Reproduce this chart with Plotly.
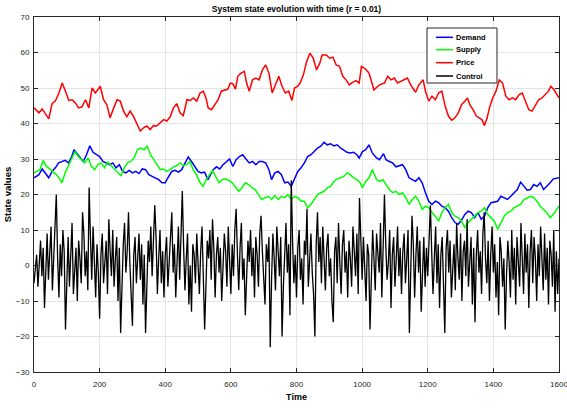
import plotly.graph_objects as go

FONT = "Liberation Sans, Arial, sans-serif"
AXIS = "#262626"
GRID = "#e3e3e3"

# ---- Demand (blue) ----
demand_t = [0, 15, 25, 35, 45, 55, 65, 75, 85, 95, 105, 115, 122, 130, 140, 150, 160, 170, 180, 190,
            200, 210, 220, 230, 240, 250, 260, 270, 280, 290, 300, 310, 320, 330, 340, 350, 360, 370, 380, 390,
            400, 410, 420, 430, 440, 450, 460, 470, 480, 490, 500, 510, 520, 530,
            546, 556, 566, 576, 586, 596, 606, 616, 626, 636, 646, 656, 666, 676, 686, 696, 706, 716,
            724, 734, 744, 754, 764, 774, 784, 794, 804, 814, 824, 834, 844, 854, 864, 874, 884, 894, 904, 914,
            924, 934, 944, 954, 964, 974, 984, 991, 1001, 1011, 1021, 1031, 1044,
            1053, 1065, 1073, 1083, 1093, 1103, 1113, 1123, 1133, 1143, 1153, 1163, 1173, 1183, 1193, 1203,
            1213, 1223, 1233, 1243, 1253, 1263, 1273, 1283, 1293, 1303, 1313, 1323, 1333, 1343, 1353, 1363,
            1373, 1383, 1393, 1403, 1413, 1423, 1433, 1443, 1453, 1463, 1473, 1483, 1493, 1503, 1513, 1523,
            1533, 1543, 1553, 1563, 1573, 1583, 1600]
demand_v = [24.7, 25.6, 27.2, 26.1, 24.7, 26.5, 27.5, 28.9, 29.3, 29.6, 28.9, 30.7, 32.6, 31.7, 30.7, 29.3,
            31.2, 33.7, 31.9, 31.2, 30.7, 29.3, 28.9, 28.4, 28.9, 27.5, 28.4, 26.5, 26.1, 26.8, 26.1, 26.5,
            25.9, 27.2, 27.0, 25.6, 25.1, 24.7, 24.2, 23.3, 23.3, 25.0, 26.5, 26.8, 26.3, 27.0, 28.9, 30.6,
            29.3, 27.9, 26.5, 26.1, 26.3, 24.2,
            27.0, 27.8, 27.2, 28.4, 29.3, 30.0, 27.9, 29.8, 30.7, 31.2, 30.0, 28.9, 29.3, 28.4, 29.3, 29.3,
            28.9, 27.0, 24.2, 26.1, 26.5, 25.6, 23.3, 23.5, 22.3, 24.2, 26.5, 27.5, 28.9, 30.7, 31.2, 32.1,
            33.1, 33.6, 34.7, 34.0, 34.3, 33.7, 34.0, 33.1, 32.4, 31.9, 31.7, 31.9, 31.2, 30.3, 32.1, 32.6,
            34.0, 31.7, 30.3,
            29.8, 31.5, 29.8, 29.3, 28.9, 27.8, 28.1, 28.4, 27.0, 24.7, 24.2, 23.7, 24.7, 23.3, 20.5, 18.1,
            17.2, 18.1, 17.7, 16.7, 16.3, 15.3, 13.5, 12.1, 11.6, 12.8, 14.4, 15.3, 14.9, 13.5, 14.9, 13.0,
            13.9, 16.3, 17.7, 17.9, 18.1, 19.5, 19.1, 18.6, 19.5, 20.5, 21.4, 23.5, 22.3, 21.2, 21.4, 22.8,
            22.3, 23.3, 21.4, 22.3, 23.3, 24.4, 24.7]

# ---- Supply (green) ----
supply_t = [0, 18, 28, 38, 48, 58, 68, 78, 85, 95, 105, 115, 125, 135, 145, 155, 165, 175, 185, 195,
            205, 215, 225, 235, 245, 255, 265, 275, 285, 295, 305, 315, 325, 335, 345, 355, 365, 375, 385, 395,
            405, 415, 425, 435, 445, 455, 465, 475, 485, 495, 505, 515, 525,
            544, 554, 564, 574, 584, 594, 604, 614, 624, 634, 644, 654, 664, 674, 684, 694, 704, 714, 724, 734,
            744, 754, 764, 774, 784, 794, 804, 814, 824, 834, 844, 854, 864, 874, 884, 894, 904, 914, 924, 934,
            944, 954, 964, 974, 984, 994, 1001, 1011, 1021, 1031, 1044,
            1053, 1063, 1073, 1083, 1093, 1103, 1113, 1123, 1133, 1143, 1153, 1163, 1173, 1183, 1193, 1203,
            1213, 1223, 1233, 1243, 1253, 1263, 1273, 1283, 1293, 1303, 1313, 1323, 1333, 1343, 1353, 1363,
            1373, 1383, 1393, 1403, 1413, 1423, 1433, 1443, 1453, 1463, 1473, 1483, 1493, 1503, 1513, 1523,
            1533, 1543, 1553, 1563, 1573, 1583, 1600]
supply_v = [26.1, 27.0, 29.6, 27.9, 27.2, 26.5, 25.6, 24.4, 23.3, 26.1, 28.1, 30.3, 32.1, 30.7, 29.8, 28.9,
            30.3, 27.9, 27.0, 28.4, 28.9, 27.5, 29.1, 28.1, 27.0, 26.1, 25.3, 27.5, 28.9, 29.3, 30.3, 32.6,
            33.1, 32.6, 33.6, 31.2, 29.8, 28.4, 27.0, 27.2, 26.5, 27.0, 27.8, 28.1, 28.9, 28.1, 28.4, 29.3,
            27.0, 25.6, 23.5, 22.3, 24.2,
            26.8, 25.1, 23.3, 24.2, 24.4, 24.0, 23.3, 22.1, 20.9, 21.9, 23.3, 22.8, 21.9, 21.4, 20.0, 18.6,
            19.1, 19.5, 18.6, 19.7, 18.6, 19.5, 19.1, 20.0, 18.6, 19.5, 19.1, 18.1, 18.1, 16.3, 17.2, 18.6,
            20.0, 20.5, 20.9, 21.9, 22.3, 23.7, 24.4, 24.7, 25.1, 26.1, 25.6, 24.7, 24.2, 23.3, 21.9, 23.7,
            24.7, 27.0, 24.2,
            23.7, 24.2, 22.8, 21.4, 20.5, 20.9, 20.0, 20.5, 19.1, 17.2, 18.6, 19.5, 18.1, 15.8, 16.7, 16.3,
            14.9, 13.9, 12.5, 14.9, 16.3, 17.2, 14.9, 13.9, 13.5, 12.5, 10.7, 12.1, 13.0, 13.9, 14.9, 15.3,
            16.3, 14.4, 13.5, 12.5, 10.2, 12.1, 13.9, 14.9, 15.3, 16.3, 16.7, 17.2, 18.6, 19.1, 19.5, 19.1,
            18.1, 16.7, 15.8, 14.9, 13.5, 14.4, 16.7]

# ---- Price (red) ----
price_t = [0, 15, 25, 35, 45, 55, 65, 76, 86, 96, 106, 116, 126, 136, 146, 157, 167, 177, 187, 202,
           212, 222, 232, 243, 253, 263, 273, 283, 293, 303, 314, 324, 334, 344, 354, 364, 374, 385, 395, 405,
           415, 425, 435, 445, 455, 466, 476, 486, 496,
           506, 516, 524, 531, 541, 551, 561, 571, 581, 591, 598, 606, 614, 621, 631, 641, 648, 656, 666, 676,
           686, 696, 706, 716, 726, 736, 746, 756, 766, 776, 786, 794, 804, 811, 821, 831, 841, 851, 861, 871,
           878, 891, 901, 911, 921, 931, 941, 951, 961, 971, 981, 991, 998, 1011, 1021, 1036, 1046,
           1053, 1068, 1078, 1088, 1098, 1108, 1118, 1128, 1138, 1148, 1163, 1173, 1186, 1193, 1203, 1213,
           1223, 1233, 1243, 1253, 1263, 1273, 1283, 1293, 1303, 1313, 1321, 1328, 1338, 1348, 1358, 1365,
           1373, 1381, 1388, 1398, 1408, 1418, 1428, 1438, 1448, 1458, 1468, 1478, 1488, 1498, 1508, 1518,
           1528, 1538, 1548, 1558, 1568, 1575, 1585, 1600]
price_v = [44.4, 43.0, 44.1, 42.5, 41.3, 45.6, 46.3, 48.6, 51.4, 49.1, 46.5, 46.7, 45.8, 44.4, 44.7, 46.7,
           44.4, 50.0, 48.6, 50.5, 46.7, 45.3, 41.6, 44.4, 46.7, 46.3, 43.5, 41.9, 43.5, 42.0, 39.7, 37.9,
           38.8, 39.3, 38.3, 39.4, 39.3, 40.4, 41.1, 40.7, 41.9, 44.4, 45.6, 43.0, 42.2, 46.7, 46.5, 47.2, 46.3,
           48.6, 49.1, 47.2, 44.4, 43.9, 45.3, 46.7, 49.1, 49.5, 49.7, 51.4, 51.2, 49.7, 53.3, 54.2, 54.7,
           51.4, 49.1, 52.3, 52.8, 52.3, 55.1, 56.5, 54.2, 48.6, 50.9, 53.3, 50.5, 48.6, 49.1, 46.5, 50.0,
           50.5, 51.4, 53.7, 57.5, 59.8, 58.4, 55.1, 57.0, 59.3, 59.3, 58.4, 58.7, 56.5, 56.1, 53.3, 52.3,
           50.9, 51.6, 52.1, 51.4, 56.1, 55.3, 54.2, 49.5, 50.5,
           50.9, 51.4, 53.3, 52.3, 52.8, 51.4, 51.9, 52.5, 52.8, 50.9, 48.8, 50.9, 52.3, 49.1, 46.3, 47.7,
           46.7, 48.6, 49.1, 44.9, 42.1, 40.9, 41.6, 43.0, 45.3, 46.3, 47.2, 45.3, 43.9, 42.1, 41.6, 41.1,
           39.4, 41.6, 44.4, 47.2, 49.1, 52.3, 51.4, 47.7, 46.7, 47.2, 46.7, 48.1, 48.6, 46.3, 43.9, 43.5,
           45.3, 46.7, 47.2, 48.1, 49.1, 50.5, 49.5, 47.2]

# ---- Control (black), sampled every 4 time steps ----
control_t = list(range(0, 1604, 4))
control_v = [
    -5, -1, 3, -6, 2, 7, -3, 5, -12, 1, 9, -4, 6, 11, -7, 3, 14, 20, 2, -9,
    6, -3, 10, 4, -18, -2, 8, -6, 3, 12, -8, 1, 5, -10, 7, 2, -5, 15, 9, -3,
    4, -7, 22, 8, -4, 11, 2, -9, 6, -2, -15, 3, 9, -5, 1, 7, -8, 13, 4, -3,
    10, -6, 2, 8, -10, 5, -19, -3, 6, 12, -2, 4, 15, 1, -7, -17, 3, 8, -5, 2,
    9, -4, 6, -11, 3, -19, -6, 7, 1, 11, -3, 5, 17, 8, -8, 2, 10, -5, 4, -9,
    3, 8, -6, 1, 10, 15, -2, 6, -9, 4, 11, -4, 7, 21, 5, -7, 2, 9, -11, 0,
    -13, 6, 3, -5, 9, 1, -8, 4, 11, -3, -18, -6, 7, 2, 10, -4, 13, 5, -9, 3,
    8, -2, 5, -10, 1, 9, 4, -6, 11, 2, -8, 6, -3, 10, 16, 3, -7, 5, 12, -4,
    2, -14, -5, 7, 1, 10, -3, 5, -9, 8, 3, -6, 9, 14, 4, -2, -11, 6, 1, 8,
    -23, -4, 9, 2, -7, 11, 5, -3, 8, -20, -6, 4, 12, -2, 6, -14, 24, 7, -5, 3,
    -9, 5, 10, -4, 2, -11, 7, 3, 16, -6, 4, 9, -2, -8, -20, 6, 15, 1, 8, -5,
    11, 3, -7, 5, 9, -3, 2, -10, -16, 4, 8, -5, 12, 1, -8, 6, 10, -2, 4, -9,
    7, 2, -6, 11, 4, -3, 9, -8, 19, 5, -4, 8, 1, -10, 6, 3, -18, -5, 10, 2,
    -7, 9, 4, -2, 12, -9, 5, 20, 6, -4, 1, 10, -12, 3, 8, -6, 2, 11, -3, 5,
    -8, 4, 9, -5, 2, 10, -19, -4, 14, 6, -9, 3, 11, -2, 7, -13, 1, 8, -6, 5,
    -3, 9, 17, 4, -8, 2, 11, -5, 6, -12, 3, 8, -4, -19, 5, 10, -2, 7, -9, 1,
    6, -7, 12, 2, -4, 9, -10, 4, 7, -3, 13, -6, 1, 8, -11, 5, -16, 3, 10, -2,
    4, -8, 9, 15, 2, -5, 7, -10, 3, 11, -2, 6, -9, 1, -14, 8, 4, -6, 2, -18,
    -3, 7, 1, -9, 10, -4, 5, -11, 8, 2, -6, 12, 3, -8, 9, -2, 6, -12, 4, 10,
    -5, 8, 2, -10, 6, -3, 11, 1, -7, 9, -4, 5, -11, 7, 3, -6, 10, -13, 4, -8,
    2,
]

x_ticks = [0, 200, 400, 600, 800, 1000, 1200, 1400, 1600]
y_ticks = [-30, -20, -10, 0, 10, 20, 30, 40, 50, 60, 70]

series = [
    ("Demand", demand_t, demand_v, "#0000ff", 1.5),
    ("Supply", supply_t, supply_v, "#00ff00", 1.5),
    ("Price", price_t, price_v, "#ff0000", 1.5),
    ("Control", control_t, control_v, "#000000", 1.3),
]

fig = go.Figure()
for name, t, v, colour, w in series:
    fig.add_trace(go.Scatter(x=t, y=v, mode="lines", name=name,
                             line=dict(color=colour, width=w)))

# MATLAB-style compact legend drawn by hand (plotly's own rows are too tall)
shapes = [dict(type="rect", xref="paper", yref="paper",
               x0=0.7486, x1=0.8819, y0=0.814, y1=0.969,
               line=dict(color=AXIS, width=1), fillcolor="white", layer="above")]
annotations = []
row_y = [0.9428, 0.9079, 0.8713, 0.8338]
for (name, _, _, colour, _), yy in zip(series, row_y):
    shapes.append(dict(type="line", xref="paper", yref="paper",
                       x0=0.7657, x1=0.798, y0=yy, y1=yy,
                       line=dict(color=colour, width=1.5), layer="above"))
    annotations.append(dict(text=f"<b>{name}</b>", xref="paper", yref="paper",
                            x=0.800, y=yy, xanchor="left", yanchor="middle",
                            showarrow=False,
                            font=dict(size=7.5, color="#000000", family=FONT)))

axis_common = dict(
    showline=True, linecolor=AXIS, linewidth=1, mirror="ticks",
    ticks="inside", ticklen=4, tickcolor=AXIS,
    showgrid=True, gridcolor=GRID, gridwidth=1, zeroline=False,
    automargin=False, ticklabeloverflow="allow",
    tickfont=dict(size=8, color=AXIS, family=FONT),
)

fig.update_layout(
    template="none",
    width=567, height=408,
    paper_bgcolor="white", plot_bgcolor="white",
    font=dict(family=FONT, color=AXIS, size=8),
    margin=dict(l=34, r=8, t=17, b=36, pad=0, autoexpand=False),
    title=dict(text="<b>System state evolution with time (r = 0.01)</b>",
               font=dict(size=8.5, color="#000000", family=FONT),
               x=0.5, xref="paper", xanchor="center",
               y=1 - 9 / 408, yanchor="middle"),
    xaxis=dict(**axis_common, range=[0, 1600], tickvals=x_ticks,
               ticklabelstandoff=4,
               title=dict(text="<b>Time</b>", standoff=6,
                          font=dict(size=9, color="#000000", family=FONT))),
    yaxis=dict(**axis_common, range=[-30, 70], tickvals=y_ticks,
               ticklabelstandoff=2,
               title=dict(text="<b>State values</b>", standoff=2,
                          font=dict(size=9.5, color="#000000", family=FONT))),
    shapes=shapes,
    annotations=annotations,
    showlegend=False,
)

fig.write_html("out.html", config={"displayModeBar": False},
               post_script="document.body.style.margin='0';")
